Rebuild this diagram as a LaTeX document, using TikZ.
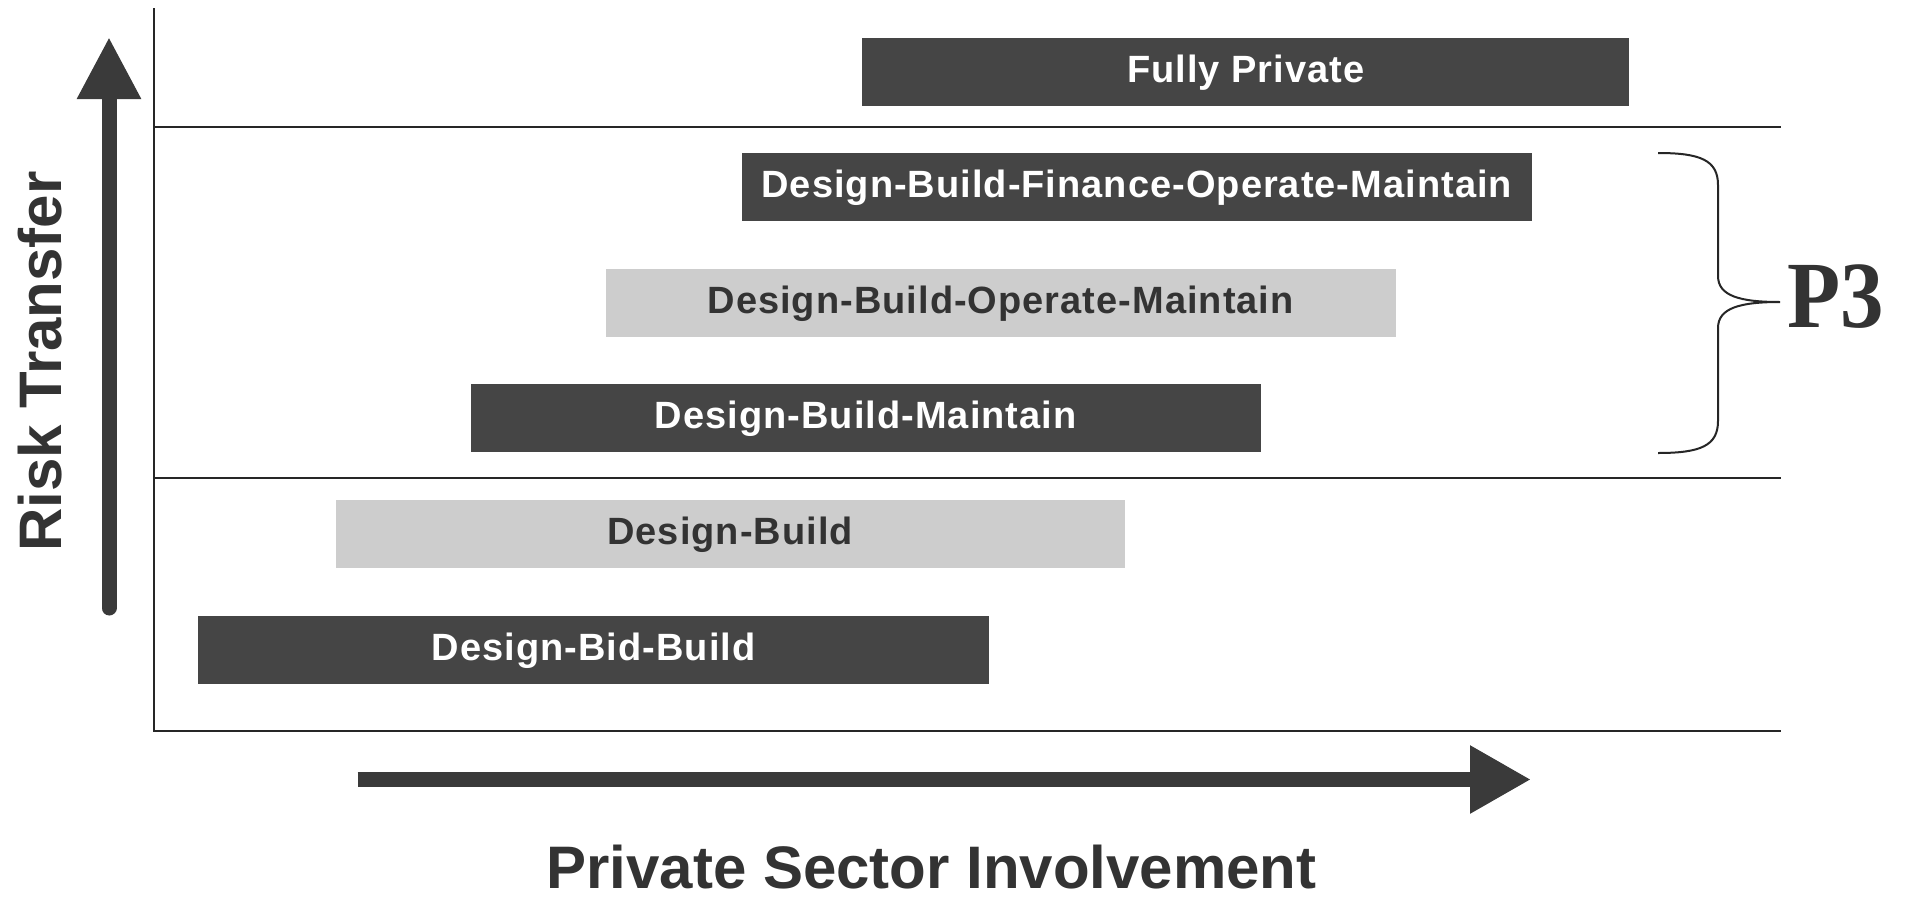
\documentclass[tikz,border=0pt]{standalone}
\usepackage{fontspec}
\setmainfont{Liberation Sans}
\newfontfamily\pthreefont{Liberation Serif}
\newfontfamily\barfont[LetterSpace=2.7]{Liberation Sans}
\usetikzlibrary{arrows.meta}

\definecolor{bardark}{HTML}{454545}
\definecolor{barlight}{HTML}{CDCDCD}
\definecolor{ink}{HTML}{333333}
\definecolor{rule}{HTML}{262626}
\definecolor{axis}{HTML}{3A3A3A}

\begin{document}
\begin{tikzpicture}[x=1pt,y=-1pt,
  bar/.style={minimum height=68pt, inner sep=0pt, anchor=north west,
    font=\barfont\bfseries\fontsize{38}{44}\selectfont,
    text height=27pt, text depth=7pt},
  darkbar/.style={bar, fill=bardark, text=white},
  lightbar/.style={bar, fill=barlight, text=ink},
  frame/.style={draw=rule, line width=2pt},
  axisarrow/.style={draw=axis, line width=15pt},
  axislabel/.style={text=ink, inner sep=0pt, font=\fontsize{60}{66}\selectfont\bfseries},
  brace/.style={draw=rule, line width=2pt}]

% canvas
\useasboundingbox[fill=white] (0,0) rectangle (1906,897);

% frame and band separators
\draw[frame] (154,8) -- (154,731) -- (1781,731);
\draw[frame] (154,126.5) -- (1781,126.5);
\draw[frame] (154,478) -- (1781,478);

% delivery models
\node[darkbar,  minimum width=791pt] (dbb)   at (198,616)   {Design-Bid-Build};
\node[lightbar, minimum width=789pt] (db)    at (335.5,500) {Design-Build};
\node[darkbar,  minimum width=790pt] (dbm)   at (470.5,384) {Design-Build-Maintain};
\node[lightbar, minimum width=790pt] (dbom)  at (605.5,269) {Design-Build-Operate-Maintain};
\node[darkbar,  minimum width=790pt] (dbfom) at (741.5,153) {Design-Build-Finance-Operate-Maintain};
\node[darkbar,  minimum width=767pt] (fp)    at (862,38)    {Fully Private};

% axes
\draw[axisarrow, line cap=round, -{Triangle[width=60pt,length=62pt]}] (109,608) -- (109,37);
\draw[axisarrow, -{Triangle[width=64pt,length=61pt]}] (357.5,779.5) -- (1531,779.5);

\node[axislabel, rotate=90, anchor=base] (risk) at (61,361.5) {Risk Transfer};
\node[axislabel, anchor=base] (involve) at (931.5,888) {Private Sector Involvement};

% P3 brace
\draw[brace] (1658,153) .. controls (1700,153) and (1718,160) .. (1718,185)
  -- (1718,276) .. controls (1718,296) and (1740,302) .. (1780,302)
  .. controls (1740,302) and (1718,308) .. (1718,328)
  -- (1718,421) .. controls (1718,446) and (1700,453) .. (1658,453);
\node[anchor=base west, inner sep=0pt, text=ink,
  font=\pthreefont\bfseries\fontsize{87}{90}\selectfont] (pthree) at (1787,327.5)
  {\scalebox{1}[1.09]{P3}};

\end{tikzpicture}
\end{document}
